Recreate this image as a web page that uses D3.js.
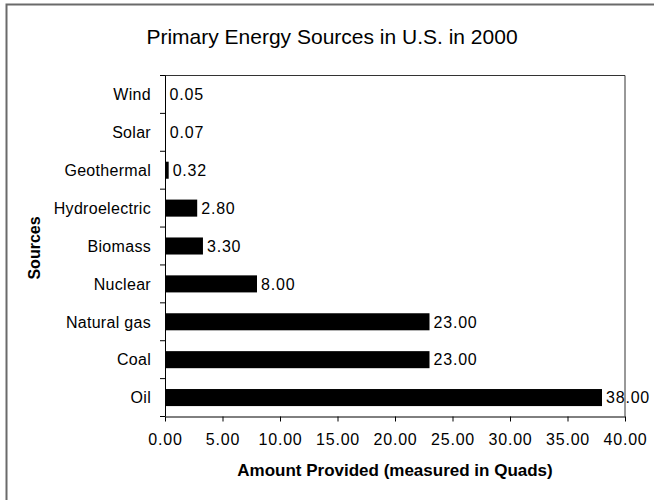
<!DOCTYPE html>
<html>
<head>
<meta charset="utf-8">
<script src="https://cdn.jsdelivr.net/npm/d3@7"></script>
<style>
  body { margin: 0; background: #fff; }
  svg text { font-family: "Liberation Sans", Arial, sans-serif; fill: #000; }
</style>
</head>
<body>
<svg id="chart" width="654" height="500"></svg>
<script>
const sources = ["Wind", "Solar", "Geothermal", "Hydroelectric", "Biomass",
  "Nuclear", "Natural gas", "Coal", "Oil"];
const amounts = [0.05, 0.07, 0.32, 2.80, 3.30, 8.00, 23.00, 23.00, 38.00];
const xTicks = [0, 5, 10, 15, 20, 25, 30, 35, 40];

const margin = {left: 165, right: 29, top: 75.5, bottom: 83.5};
const width = 654 - margin.left - margin.right;
const height = 500 - margin.top - margin.bottom;

const svg = d3.select("#chart");

// outer chart frame (only top and left edges fall inside the picture)
svg.append("rect")
  .attr("x", 6.5).attr("y", 4.5)
  .attr("width", 700).attr("height", 600)
  .attr("fill", "none")
  .attr("stroke", "#6a6a6a")
  .attr("stroke-width", 2);

svg.append("text")
  .attr("x", 332).attr("y", 44)
  .attr("text-anchor", "middle")
  .style("font-size", "21px")
  .text("Primary Energy Sources in U.S. in 2000");

const g = svg.append("g")
  .attr("transform", `translate(${margin.left},${margin.top})`);

const x = d3.scaleLinear().domain([0, 40]).range([0, width]);
const y = d3.scaleBand().domain(sources).range([0, height]).paddingInner(0.55).paddingOuter(0.275);

// plot frame top & right
g.append("path")
  .attr("d", `M0,0H${width}V${height}`)
  .attr("fill", "none")
  .attr("stroke", "#333");

g.selectAll(".bar")
  .data(sources)
  .join("rect")
  .attr("class", "bar")
  .attr("x", 0)
  .attr("y", d => y(d))
  .attr("width", (d, i) => x(amounts[i]))
  .attr("height", y.bandwidth())
  .attr("fill", "#000");

g.selectAll(".val")
  .data(sources)
  .join("text")
  .attr("class", "val")
  .attr("x", (d, i) => x(amounts[i]) + 4)
  .attr("y", d => y(d) + y.bandwidth() / 2)
  .attr("dy", "0.36em")
  .style("font-size", "16px")
  .style("letter-spacing", "0.8px")
  .text((d, i) => amounts[i].toFixed(2));

// y axis: ticks on category boundaries
const step = height / sources.length;
const yAxis = g.append("g").attr("class", "y-axis");
yAxis.append("line")
  .attr("x1", 0.5).attr("x2", 0.5).attr("y1", 0).attr("y2", height)
  .attr("stroke", "#000");
yAxis.selectAll(".ytick")
  .data(d3.range(sources.length + 1))
  .join("line")
  .attr("x1", -5).attr("x2", 0)
  .attr("y1", i => i * step).attr("y2", i => i * step)
  .attr("stroke", "#000");
yAxis.selectAll(".ylab")
  .data(sources)
  .join("text")
  .attr("x", -14)
  .attr("y", d => y(d) + y.bandwidth() / 2)
  .attr("dy", "0.36em")
  .attr("text-anchor", "end")
  .style("font-size", "16px")
  .style("letter-spacing", "0.3px")
  .text(d => d);

const xAxis = d3.axisBottom(x)
  .tickValues(xTicks)
  .tickSize(5)
  .tickSizeOuter(0)
  .tickPadding(12)
  .tickFormat(d => d.toFixed(2));

g.append("g")
  .attr("class", "x-axis")
  .attr("transform", `translate(0,${height})`)
  .call(xAxis)
  .call(s => s.selectAll("text").style("font-size", "16px").style("letter-spacing", "0.8px").attr("font-family", null))
  .call(s => s.select(".domain").attr("stroke", "#000"));

svg.append("text")
  .attr("x", margin.left + width / 2).attr("y", 476)
  .attr("text-anchor", "middle")
  .style("font-size", "17px")
  .style("font-weight", "bold")
  .text("Amount Provided (measured in Quads)");

svg.append("text")
  .attr("transform", "translate(40,248) rotate(-90)")
  .attr("text-anchor", "middle")
  .style("font-size", "16px")
  .style("font-weight", "bold")
  .text("Sources");
</script>
</body>
</html>
